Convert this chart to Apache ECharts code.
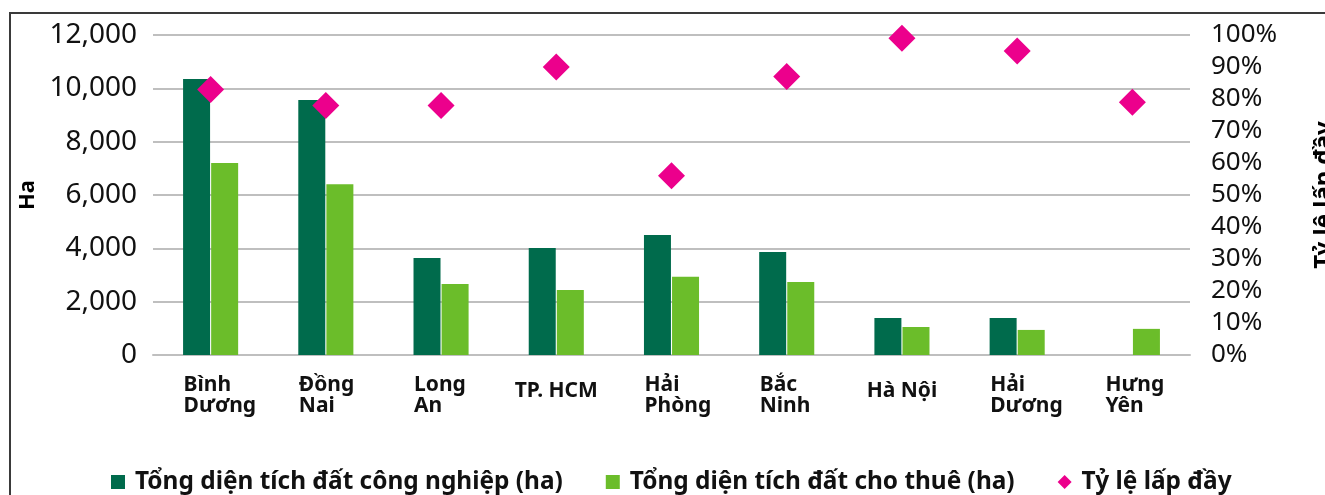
<!DOCTYPE html>
<html>
<head>
<meta charset="utf-8">
<script src="https://cdn.jsdelivr.net/npm/echarts@6/dist/echarts.min.js"></script>
<style>
  html, body { margin: 0; padding: 0; background: #fff; }
  #wrap { position: relative; width: 1325px; height: 495px; overflow: hidden; }
  #chart { width: 1325px; height: 495px; }
  /* khung viền trên + trái như ảnh gốc */
  #frame { position: absolute; left: 9px; top: 12px; width: 1400px; height: 600px;
           border-top: 2px solid #3a3a3a; border-left: 2px solid #3a3a3a; pointer-events: none; }
</style>
</head>
<body>
<div id="wrap">
  <div id="chart"></div>
  <div id="frame"></div>
</div>
<script>
// dữ liệu
var provinces = ['Bình\nDương', 'Đồng\nNai', 'Long\nAn', 'TP. HCM', 'Hải\nPhòng', 'Bắc\nNinh', 'Hà Nội', 'Hải\nDương', 'Hưng\nYên']
var totalArea = [10350, 9560, 3640, 4010, 4500, 3860, 1390, 1390, 0]      // Tổng diện tích đất công nghiệp (ha)
var leasedArea = [7200, 6400, 2660, 2440, 2930, 2740, 1050, 940, 980]     // Tổng diện tích đất cho thuê (ha)
var occupancy = [0.83, 0.78, 0.78, 0.90, 0.56, 0.87, 0.99, 0.95, 0.79]  // Tỷ lệ lấp đầy

var seriesNames = ['Tổng diện tích đất công nghiệp (ha)', 'Tổng diện tích đất cho thuê (ha)', 'Tỷ lệ lấp đầy']

var FONT = '"Noto Sans", "Open Sans", sans-serif'
var DARK = '#006b4c', LIGHT = '#6bbd2a', PINK = '#ec008c', GRID = '#bfbfbf'

var myChart = echarts.init(document.getElementById('chart'))

var option = {
  animation: false,
  textStyle: { fontFamily: FONT },
  grid: { left: 153, right: 135, top: 35, bottom: 140, containLabel: false, outerBoundsMode: 'none' },
  legend: {
    left: 106,
    top: 465,
    itemWidth: 14,
    itemHeight: 14,
    itemGap: 43,
    textStyle: { fontFamily: FONT, fontSize: 24.4, fontWeight: 'bold', color: '#111', padding: [0, 0, 0, 5] },
    data: [
      { name: seriesNames[0], icon: 'rect' },
      { name: seriesNames[1], icon: 'rect' },
      { name: seriesNames[2], icon: 'diamond', itemStyle: { color: PINK, opacity: 1 } }
    ]
  },
  xAxis: {
    type: 'category',
    data: provinces,
    axisTick: { show: false },
    axisLine: { show: true, lineStyle: { color: GRID, width: 2 } },
    axisLabel: {
      interval: 0,
      margin: 20,
      formatter: function (v) {
        // nhãn xuống dòng thì canh trái, một dòng thì canh giữa
        if (v.indexOf('\n') < 0) return '{c|' + v + '}'
        return v.split('\n').map(function (s) { return '{w|' + s + '}' }).join('\n')
      },
      rich: {
        w: { width: 54, align: 'left', fontFamily: FONT, fontSize: 21, fontWeight: 'bold', color: '#111', lineHeight: 21 },
        c: { fontFamily: FONT, fontSize: 21, fontWeight: 'bold', color: '#111', lineHeight: 21, padding: [11, 0, 0, 0] }
      }
    }
  },
  yAxis: [
    {
      type: 'value',
      min: 0, max: 12000, interval: 2000,
      name: 'Ha',
      nameLocation: 'middle',
      nameRotate: 90,
      nameGap: 113,
      nameTextStyle: { fontFamily: FONT, fontSize: 22, fontWeight: 'bold', color: '#000' },
      axisLine: { show: false },
      axisTick: { show: false },
      axisLabel: {
        margin: 16,
        fontFamily: FONT, fontSize: 28, color: '#111',
        formatter: function (v) { return v.toLocaleString('en-US') }
      },
      splitLine: { show: true, lineStyle: { color: GRID, width: 2 } }
    },
    {
      type: 'value',
      min: 0, max: 1, interval: 0.1,
      name: 'Tỷ lệ lấp đầy',
      nameLocation: 'middle',
      nameRotate: 90,
      nameGap: 122,
      nameTextStyle: { fontFamily: FONT, fontSize: 24, fontWeight: 'bold', color: '#000' },
      axisLine: { show: false },
      axisTick: { show: false },
      splitLine: { show: false },
      axisLabel: {
        margin: 21,
        fontFamily: FONT, fontSize: 26, color: '#111',
        formatter: function (v) { return Math.round(v * 100) + '%' }
      }
    }
  ],
  series: [
    {
      name: seriesNames[0],
      type: 'bar',
      barWidth: 27,
      barGap: '4%',
      itemStyle: { color: DARK },
      data: totalArea
    },
    {
      name: seriesNames[1],
      type: 'bar',
      barWidth: 27,
      itemStyle: { color: LIGHT },
      data: leasedArea
    },
    {
      name: seriesNames[2],
      type: 'scatter',
      yAxisIndex: 1,
      symbol: 'diamond',
      symbolSize: 27,
      itemStyle: { color: PINK, opacity: 1 },
      z: 5,
      data: occupancy
    }
  ]
}

myChart.setOption(option)
</script>
</body>
</html>
